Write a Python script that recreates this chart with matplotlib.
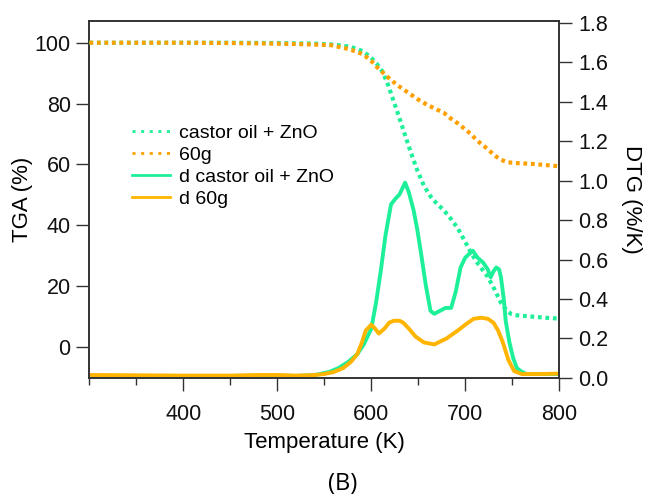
import numpy as np
import matplotlib
matplotlib.use('Agg')
import matplotlib.pyplot as plt
from matplotlib.lines import Line2D
from matplotlib.ticker import MultipleLocator, FormatStrFormatter

plt.rcParams['font.family'] = ['Liberation Sans', 'DejaVu Sans']

# TGA, castor oil + ZnO
t_tga_c = [300, 350, 400, 450, 500, 540, 560, 575, 585, 592, 600, 606, 612, 618, 623, 628,
           635, 642, 649, 656, 663, 670, 677, 685, 692, 700, 706, 712, 718, 724, 731, 738,
           744, 749, 755, 770, 785, 800]
tga_c = [100, 100, 100, 100, 99.9, 99.7, 99.4, 98.8, 98, 97, 95, 93, 90.5, 86, 81.5, 77,
         70.5, 64, 58, 53, 49.5, 47, 45, 42, 39, 34.5, 31, 28, 25.5, 23, 19, 14.5,
         12, 10.8, 10.4, 10.0, 9.6, 9.3]

# TGA, 60g
t_tga_g = [300, 400, 450, 500, 530, 557, 575, 585, 592, 600, 606, 613, 620, 628, 635, 642,
           650, 660, 670, 677, 685, 692, 700, 706, 712, 718, 724, 731, 738, 745, 756, 770,
           785, 800]
tga_g = [100, 100, 99.9, 99.7, 99.5, 99.2, 98, 97, 96, 94, 92, 90, 88, 86, 84.5, 83,
         81.3, 79.5, 78, 77, 75, 73.5, 71.5, 70, 68, 66.5, 65, 63, 61.5, 60.7, 60.4, 60.2,
         59.8, 59.4]

# DTG, castor oil + ZnO
t_dtg_c = [300, 400, 450, 500, 520, 540, 555, 565, 575, 585, 592, 600, 605, 610, 615, 621,
           626, 630, 636, 640, 645, 649, 653, 658, 663, 667, 673, 679, 685, 690, 695, 700,
           708, 713, 719, 724, 727, 730, 733, 736, 738, 741, 743, 747, 751, 755, 759, 765,
           780, 800]
dtg_c = [0.01, 0.01, 0.01, 0.012, 0.01, 0.015, 0.03, 0.05, 0.08, 0.12, 0.17, 0.25, 0.38, 0.54, 0.72, 0.88,
         0.91, 0.93, 0.99, 0.94, 0.85, 0.75, 0.63, 0.47, 0.34, 0.325, 0.34, 0.355, 0.355, 0.44, 0.56, 0.61,
         0.645, 0.61, 0.585, 0.55, 0.51, 0.54, 0.56, 0.55, 0.51, 0.40, 0.29, 0.18, 0.10, 0.05, 0.035, 0.02,
         0.02, 0.02]

# DTG, 60g
t_dtg_g = [300, 400, 450, 480, 500, 520, 540, 550, 560, 570, 578, 585, 590, 594, 600, 604,
           608, 614, 619, 624, 630, 634, 640, 647, 656, 667, 680, 692, 700, 709, 717, 724,
           730, 735, 740, 746, 752, 760, 780, 800]
dtg_g = [0.015, 0.012, 0.012, 0.015, 0.015, 0.012, 0.015, 0.02, 0.03, 0.05, 0.08, 0.12, 0.18, 0.24, 0.27, 0.25,
         0.225, 0.25, 0.28, 0.29, 0.29, 0.28, 0.25, 0.21, 0.18, 0.17, 0.20, 0.24, 0.27, 0.30, 0.305, 0.30,
         0.28, 0.24, 0.18, 0.09, 0.035, 0.02, 0.02, 0.022]

labels = ['castor oil + ZnO', '60g', 'd castor oil + ZnO', 'd 60g']

green = '#1ef09a'
orange_dot = '#ffa000'
orange = '#ffb400'
dots = (0, (0.9, 0.9))

fig = plt.figure(figsize=(6.48, 4.96), dpi=100)
ax = fig.add_axes([0.138, 0.238, 0.725, 0.72])
ax2 = ax.twinx()

ax.plot(t_tga_c, tga_c, color=green, lw=3, ls=dots, zorder=3)
ax.plot(t_tga_g, tga_g, color=orange_dot, lw=3, ls=dots, zorder=3)
ax2.plot(t_dtg_c, dtg_c, color=green, lw=2.8)
ax2.plot(t_dtg_g, dtg_g, color=orange, lw=2.8)

ax.set_zorder(ax2.get_zorder() + 1)
ax.patch.set_visible(False)

ax.set_xlim(300, 800)
ax.set_ylim(-10.2, 107.2)
ax2.set_ylim(0, 1.81)

ax.xaxis.set_major_locator(MultipleLocator(100))
ax.xaxis.set_minor_locator(MultipleLocator(50))
ax.yaxis.set_major_locator(MultipleLocator(20))
ax2.yaxis.set_major_locator(MultipleLocator(0.2))
ax2.yaxis.set_major_formatter(FormatStrFormatter('%.1f'))

for a in (ax, ax2):
    a.tick_params(which='major', direction='out', length=9.5, width=1, labelsize=15.5,
                  colors='#333333', labelcolor='#111111', pad=4)
    a.tick_params(which='minor', direction='out', length=5, width=1, colors='#333333')
    for sp in a.spines.values():
        sp.set_color('#333333')
        sp.set_linewidth(1.2)
ax.tick_params(axis='x', which='major', pad=9)
ax.xaxis.set_ticks_position('bottom')

ax.set_xticks([400, 500, 600, 700, 800])
ax.set_xlabel('Temperature (K)', fontsize=16, labelpad=5)
ax.set_ylabel('TGA (%)', fontsize=16, labelpad=1)
ax2.set_ylabel('DTG (%/K)', fontsize=16, rotation=-90, labelpad=24)

handles = [Line2D([], [], color=green, lw=2, ls=(0, (1.1, 2))),
           Line2D([], [], color=orange_dot, lw=2, ls=(0, (1.1, 2))),
           Line2D([], [], color=green, lw=2),
           Line2D([], [], color=orange, lw=2)]
ax.legend(handles, labels, loc='upper left', bbox_to_anchor=(0.09, 0.71),
          frameon=False, fontsize=14, handlelength=1.95, handletextpad=0.5,
          labelspacing=0.22, borderaxespad=0, borderpad=0)

fig.text(0.529, 0.024, '(B)', fontsize=17, ha='center', va='center',
         family=['Open Sans', 'DejaVu Sans'])

fig.savefig('out.png', dpi=100)
